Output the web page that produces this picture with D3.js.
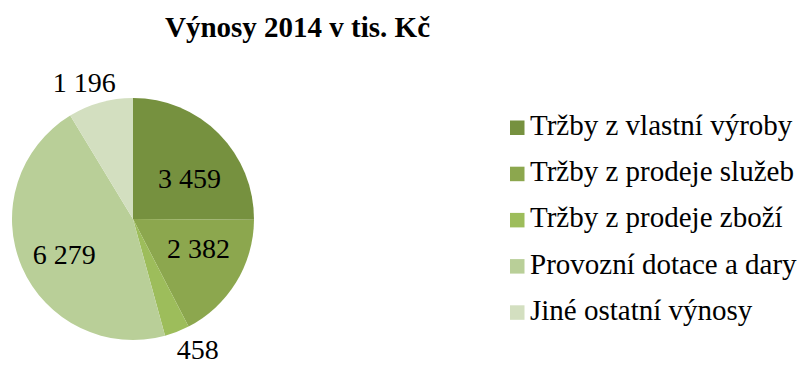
<!DOCTYPE html>
<html>
<head>
<meta charset="utf-8">
<script src="https://cdn.jsdelivr.net/npm/d3@7/dist/d3.min.js"></script>
<style>
  html, body { margin: 0; padding: 0; background: #fff; }
  svg { display: block; }
</style>
</head>
<body>
<svg id="chart" width="803" height="365"></svg>
<script>
// Revenue structure 2014 (thousands CZK)
const categories = [
  "Tržby z vlastní výroby",
  "Tržby z prodeje služeb",
  "Tržby z prodeje zboží",
  "Provozní dotace a dary",
  "Jiné ostatní výnosy"
];
const values = [3459, 2382, 458, 6279, 1196];
const colors = ["#76913f", "#8ca74e", "#9dbd5b", "#b9cf98", "#d3dfc0"];
const title = "Výnosy 2014 v tis. Kč";

// Label placement: radius as a fraction of the pie radius, plus an angular nudge (degrees)
const labelRadius = [0.575, 0.595, 1.205, 0.64, 1.2];
const labelNudge = [9, -7, -5, -4, -4];

const FONT = "'Liberation Serif'";

const svg = d3.select("#chart");

const fmt = v => d3.format(",")(v).replace(/,/g, " ");
const cx = 133, cy = 219, r = 121;

svg.append("text")
  .attr("x", 297.5).attr("y", 37)
  .attr("text-anchor", "middle")
  .attr("font-family", FONT)
  .attr("font-size", 29)
  .attr("font-weight", "bold")
  .attr("fill", "#000")
  .text(title);

const pie = d3.pie().sort(null).value(d => d.value);
const data = categories.map((c, i) => ({ name: c, value: values[i], color: colors[i] }));
const arcs = pie(data);
const arc = d3.arc().innerRadius(0).outerRadius(r);

const g = svg.append("g").attr("transform", `translate(${cx},${cy})`);

g.selectAll("path.slice")
  .data(arcs)
  .join("path")
  .attr("class", "slice")
  .attr("d", arc)
  .attr("fill", d => d.data.color);

g.selectAll("text.val")
  .data(arcs)
  .join("text")
  .attr("class", "val")
  .attr("text-anchor", "middle")
  .attr("dy", "0.34em")
  .attr("font-family", FONT)
  .attr("font-size", 28)
  .attr("fill", "#000")
  .attr("transform", (d, i) => {
    const a = (d.startAngle + d.endAngle) / 2 + labelNudge[i] * Math.PI / 180;
    const rr = r * labelRadius[i];
    return `translate(${rr * Math.sin(a)},${-rr * Math.cos(a)})`;
  })
  .text(d => fmt(d.data.value));

// Legend
const legend = svg.append("g").attr("transform", "translate(510,135)");
const rowStep = 46.2;
const item = legend.selectAll("g.item")
  .data(data)
  .join("g")
  .attr("class", "item")
  .attr("transform", (d, i) => `translate(0,${i * rowStep})`);
item.append("rect")
  .attr("x", 0).attr("y", -14.5)
  .attr("width", 14.5).attr("height", 14.5)
  .attr("fill", d => d.color);
item.append("text")
  .attr("x", 20).attr("y", 0)
  .attr("font-family", FONT)
  .attr("font-size", 29)
  .attr("fill", "#000")
  .text(d => d.name);
</script>
</body>
</html>
